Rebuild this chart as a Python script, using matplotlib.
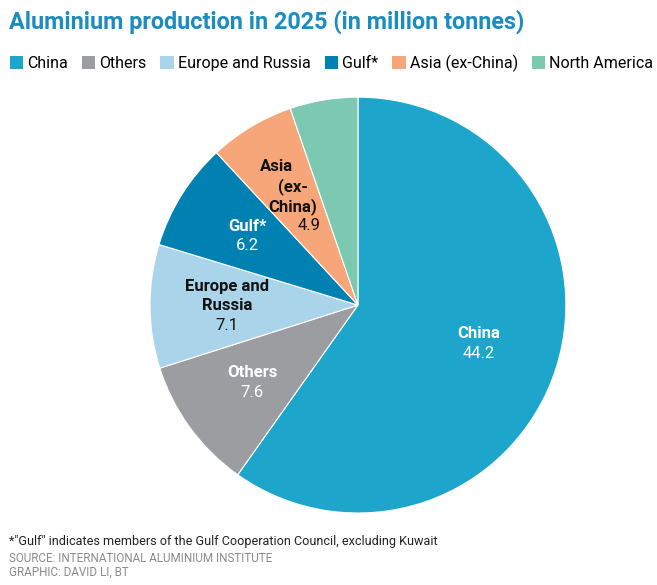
import numpy as np
import matplotlib
matplotlib.use("Agg")
import matplotlib.pyplot as plt
from matplotlib.patches import Patch

plt.rcParams["font.family"] = ["Roboto", "DejaVu Sans"]

# data
regions = ["China", "Others", "Europe and Russia", "Gulf*", "Asia (ex-China)", "North America"]
slice_labels = ["China", "Others", "Europe and\nRussia", "Gulf*", "Asia\n(ex-\nChina)", None]
production = [44.2, 7.6, 7.1, 6.2, 4.9, 3.9]
colors = ["#1ea5cc", "#9c9da1", "#aad4ea", "#0081b2", "#f7a679", "#7cc8b0"]
text_colors = ["white", "white", "#111111", "white", "#111111", None]
label_dist = [0.61, 0.63, 0.63, 0.625, 0.61, 0.6]

fig = plt.figure(figsize=(6.57, 5.85), dpi=100)
ax = fig.add_axes([0.2283, 0.123, 0.633, 0.711])

wedges, _ = ax.pie(
    production,
    colors=colors,
    startangle=90,
    counterclock=False,
    wedgeprops=dict(edgecolor="white", linewidth=0.8),
)
ax.set_xlim(-1, 1)
ax.set_ylim(-1, 1)
ax.set_aspect("equal")

lh = 0.094
for w, name, val, tc, d in zip(wedges, slice_labels, production, text_colors, label_dist):
    if name is None:
        continue
    mid = np.deg2rad((w.theta1 + w.theta2) / 2)
    x, y = d * np.cos(mid), d * np.sin(mid)
    lines = name.split("\n") + [f"{val}"]
    n = len(lines)
    # the Asia label is wrapped to follow the slant of the slice
    shifts = [-0.08, 0.0, 0.0, 0.08] if n == 4 else [0.0] * n
    for i, line in enumerate(lines):
        yy = y + ((n - 1) / 2 - i) * lh
        bold = i < n - 1
        ax.text(x + shifts[i], yy, line, ha="center", va="center", fontsize=12,
                fontweight="bold" if bold else "normal", color=tc)

fig.text(0.014, 0.962, "Aluminium production in 2025 (in million tonnes)",
         fontsize=16.8, fontweight="bold", color="#1a8cc0", ha="left", va="center")

handles = [Patch(facecolor=c, edgecolor="none") for c in colors]
fig.legend(handles, regions, loc="center left", bbox_to_anchor=(0.015, 0.892),
           ncol=6, frameon=False, fontsize=11.5, handlelength=0.85, handleheight=0.95,
           handletextpad=0.25, columnspacing=0.86, borderaxespad=0, borderpad=0)

fig.text(0.013, 0.075, '*"Gulf" indicates members of the Gulf Cooperation Council, excluding Kuwait',
         fontsize=9.1, color="#222222", ha="left", va="center")
fig.text(0.013, 0.046, "SOURCE: INTERNATIONAL ALUMINIUM INSTITUTE",
         fontsize=8.4, color="#8a8a8a", ha="left", va="center")
fig.text(0.013, 0.021, "GRAPHIC: DAVID LI, BT",
         fontsize=8.4, color="#8a8a8a", ha="left", va="center")

fig.savefig("out.png", dpi=100)
